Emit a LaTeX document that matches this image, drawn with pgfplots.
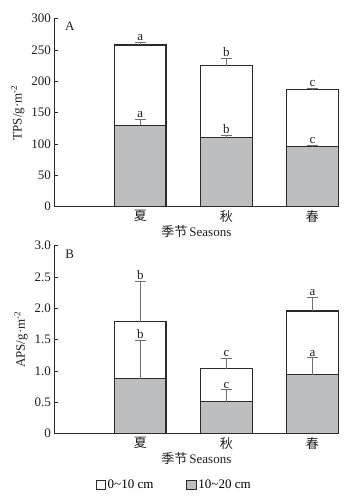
\documentclass[border=0pt]{standalone}
\usepackage{pgfplots}
\pgfplotsset{compat=1.18}
\usepackage{fontspec}
\setmainfont{Liberation Serif}
\newfontfamily\cjk{Noto Sans CJK SC}
\definecolor{barfill}{HTML}{BDBEC0}
\definecolor{errgray}{HTML}{6E6E6E}
\definecolor{outl}{HTML}{2A2A2A}
\definecolor{txt}{HTML}{1E1E24}
\newcommand{\fs}{\fontsize{13}{15}\selectfont}
\pgfplotsset{
 panel/.style={
  scale only axis, width=284pt, height=188pt,
  xmin=0, xmax=3.3,
  axis x line*=bottom, axis y line*=left,
  axis line style={outl, line width=0.9pt, -},
  xtick={1,2,3}, xticklabels={{\cjk 夏},{\cjk 秋},{\cjk 春}},
  x tick style={draw=none},
  tick align=inside, major tick length=4pt,
  y tick style={outl, line width=0.9pt},
  font=\fs,
  tick label style={font=\fs, text=txt},
  label style={font=\fs, text=txt},
  xlabel style={yshift=3pt},
  /pgf/number format/assume math mode=true,
  xlabel={{\cjk 季节}\,Seasons},
  clip=false,
 },
 sqleg/.style={legend image code/.code={\draw[##1, line width=0.8pt] (0pt,-4.6pt) rectangle (9.3pt,4.6pt);}},
 whitebar/.style={ybar, bar width=0.6, bar shift=0pt, fill=white, draw=outl, line width=1.4pt, sqleg},
 graybar/.style={ybar, bar width=0.6, bar shift=0pt, fill=barfill, draw=outl, line width=1.4pt, sqleg},
 errline/.style={forget plot, draw=errgray, line width=1.1pt, mark=none, unbounded coords=jump},
 letp/.style={forget plot, only marks, mark=none, nodes near coords, point meta=explicit symbolic,
   every node near coord/.append style={anchor=south, inner sep=1pt, yshift=0.5pt, text=txt, font=\fs}},
}
\begin{document}
\begin{tikzpicture}
\useasboundingbox (0,0) rectangle (351pt,496pt);
% Panel A
\begin{axis}[panel, at={(54.3pt,289.3pt)}, anchor=south west,
  ymin=0, ymax=300, ytick={0,50,...,300},
  ylabel={TPS/g·m\textsuperscript{-2}}]
\addplot[whitebar] coordinates {(1,258) (2,225) (3,187)};
\addplot[graybar] coordinates {(1,130) (2,110) (3,96)};
\addplot[errline] coordinates {
 (1,258) (1,262.5) (1,nan) (0.936,262.5) (1.064,262.5) (1,nan)
 (2,225) (2,236) (2,nan) (1.936,236) (2.064,236) (2,nan)
 (3,187) (3,188.5) (3,nan) (2.936,188.5) (3.064,188.5)};
\addplot[errline] coordinates {
 (1,130) (1,139) (1,nan) (0.936,139) (1.064,139) (1,nan)
 (2,110) (2,113.5) (2,nan) (1.936,113.5) (2.064,113.5) (2,nan)
 (3,96) (3,97.5) (3,nan) (2.936,97.5) (3.064,97.5)};
\addplot[letp] coordinates {(1,262.5)[a] (2,236)[b] (3,188.5)[c]};
\addplot[letp] coordinates {(1,139)[a] (2,113.5)[b] (3,97.5)[c]};
\node[text=txt, font=\fs] at (axis cs:0.18,287.7) {A};
\end{axis}
% Panel B
\begin{axis}[panel, at={(54.3pt,62.3pt)}, anchor=south west,
  ymin=0, ymax=3, ytick={0,0.5,...,3}, yticklabels={0,0.5,1.0,1.5,2.0,2.5,3.0},
  ylabel={APS/g·m\textsuperscript{-2}},
  legend columns=2,
  legend style={at={(0.422,-0.273)}, anchor=center, draw=none, fill=none, font=\fs,
    /tikz/every even column/.append style={column sep=31pt}},
  legend cell align=left]
\addplot[whitebar] coordinates {(1,1.79) (2,1.04) (3,1.96)};
\addlegendentry{0\textasciitilde 10 cm}
\addplot[graybar] coordinates {(1,0.88) (2,0.51) (3,0.94)};
\addlegendentry{10\textasciitilde 20 cm}
\addplot[errline] coordinates {
 (1,1.79) (1,2.43) (1,nan) (0.936,2.43) (1.064,2.43) (1,nan)
 (2,1.04) (2,1.20) (2,nan) (1.936,1.20) (2.064,1.20) (2,nan)
 (3,1.96) (3,2.18) (3,nan) (2.936,2.18) (3.064,2.18)};
\addplot[errline] coordinates {
 (1,0.88) (1,1.49) (1,nan) (0.936,1.49) (1.064,1.49) (1,nan)
 (2,0.51) (2,0.70) (2,nan) (1.936,0.70) (2.064,0.70) (2,nan)
 (3,0.94) (3,1.21) (3,nan) (2.936,1.21) (3.064,1.21)};
\addplot[letp] coordinates {(1,2.43)[b] (2,1.20)[c] (3,2.18)[a]};
\addplot[letp] coordinates {(1,1.49)[b] (2,0.70)[c] (3,1.21)[a]};
\node[text=txt, font=\fs] at (axis cs:0.18,2.87) {B};
\end{axis}
\end{tikzpicture}
\end{document}
